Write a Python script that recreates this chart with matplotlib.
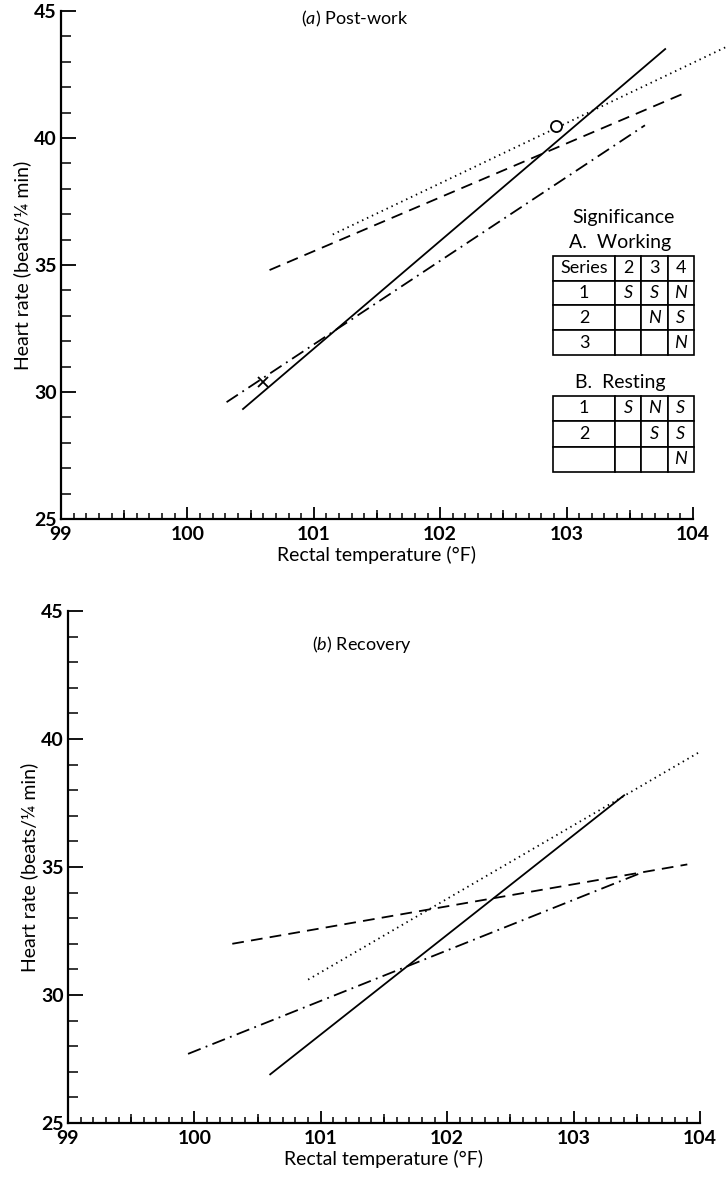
import numpy as np
import matplotlib
matplotlib.use("Agg")
import matplotlib.pyplot as plt
from matplotlib.ticker import MultipleLocator, NullFormatter

plt.rcParams['font.family'] = ['Lato', 'DejaVu Sans']
plt.rcParams['mathtext.fontset'] = 'custom'
plt.rcParams['mathtext.rm'] = 'Lato'
plt.rcParams['mathtext.it'] = 'Lato:italic'

# ---- data (end points of the fitted lines) ----
# (a) post-work
a_solid_x = [100.44, 103.78]
a_solid_y = [29.33, 43.5]
a_dotted_x = [101.15, 104.27]
a_dotted_y = [36.2, 43.6]
a_dashed_x = [100.65, 103.95]
a_dashed_y = [34.8, 41.8]
a_dashdot_x = [100.31, 103.62]
a_dashdot_y = [29.6, 40.5]
a_circle = (102.92, 40.47)
a_cross = (100.6, 30.39)

# (b) recovery
b_solid_x = [100.6, 103.4]
b_solid_y = [26.9, 37.8]
b_dotted_x = [100.9, 104.0]
b_dotted_y = [30.6, 39.5]
b_dashed_x = [100.3, 103.9]
b_dashed_y = [32.0, 35.1]
b_dashdot_x = [99.95, 103.55]
b_dashdot_y = [27.7, 34.8]

# significance tables
working_rows = [["Series", "2", "3", "4"],
                ["1", "S", "S", "N"],
                ["2", "", "N", "S"],
                ["3", "", "", "N"]]
resting_rows = [["1", "S", "N", "S"],
                ["2", "", "S", "S"],
                ["", "", "", "N"]]

x_ticks = [99, 100, 101, 102, 103, 104]
y_ticks = [25, 30, 35, 40, 45]

LW = 1.3
styles = {
    'solid': dict(color='black', lw=LW, linestyle='-'),
    'dotted': dict(color='black', lw=LW, linestyle=(0, (0.8, 2.2))),
    'dashed': dict(color='black', lw=LW, linestyle=(0, (6.5, 4))),
    'dashdot': dict(color='black', lw=LW, linestyle=(0, (7.5, 3, 1, 3))),
}


def style_axes(ax):
    ax.set_xlim(99, 104)
    ax.set_ylim(25, 45)
    for s in ['top', 'right']:
        ax.spines[s].set_visible(False)
    for s in ['left', 'bottom']:
        ax.spines[s].set_linewidth(1.6)
    ax.set_xticks(x_ticks)
    ax.set_yticks(y_ticks)
    ax.xaxis.set_minor_locator(MultipleLocator(0.1))
    ax.yaxis.set_minor_locator(MultipleLocator(1))
    ax.tick_params(axis='x', which='major', direction='in', length=9, width=1.3,
                   labelsize=14, pad=5)
    ax.tick_params(axis='x', which='minor', direction='in', length=4, width=1.1)
    ax.tick_params(axis='y', which='major', direction='in', length=11, width=1.3,
                   labelsize=14, pad=3)
    ax.tick_params(axis='y', which='minor', direction='in', length=7, width=1.1)
    for lab in ax.get_xticklabels() + ax.get_yticklabels():
        lab.set_fontweight('bold')
    # half-degree ticks a bit longer
    sec = ax.secondary_xaxis(0)
    sec.set_xticks(np.arange(99.5, 104, 1.0))
    sec.xaxis.set_major_formatter(NullFormatter())
    sec.tick_params(direction='in', length=6.5, width=1.1)
    sec.spines['bottom'].set_visible(False)
    ax.set_xlabel('Rectal temperature (°F)', fontsize=14, labelpad=2)
    ax.set_ylabel('Heart rate (beats/¼ min)', fontsize=14, va='center')
    ax.yaxis.set_label_coords(-0.062, 0.5)


fig = plt.figure(figsize=(7.27, 11.79), dpi=100)
ax1 = fig.add_axes([0.0839, 0.5598, 0.8693, 0.4309])
ax2 = fig.add_axes([0.0935, 0.0475, 0.8693, 0.4343])

# panel (a)
ax1.plot(a_solid_x, a_solid_y, **styles['solid'])
ax1.plot(a_dotted_x, a_dotted_y, clip_on=False, **styles['dotted'])
ax1.plot(a_dashed_x, a_dashed_y, **styles['dashed'])
ax1.plot(a_dashdot_x, a_dashdot_y, **styles['dashdot'])
ax1.plot([a_circle[0]], [a_circle[1]], marker='o', ms=8, mfc='white',
         mec='black', mew=1.3, linestyle='none')
ax1.plot([a_cross[0]], [a_cross[1]], marker='x', ms=7, mec='black',
         mew=1.3, linestyle='none')
style_axes(ax1)
ax1.text(0.465, 0.985, '($\\it{a}$) Post-work', transform=ax1.transAxes,
         ha='center', va='center', fontsize=13)

# significance tables
ax1.text(0.89, 0.594, 'Significance', transform=ax1.transAxes,
         ha='center', va='center', fontsize=14)
ax1.text(0.885, 0.545, 'A.  Working', transform=ax1.transAxes,
         ha='center', va='center', fontsize=14)
ax1.text(0.885, 0.268, 'B.  Resting', transform=ax1.transAxes,
         ha='center', va='center', fontsize=14)

col_w = [0.445, 0.185, 0.185, 0.185]
for rows, box in [(working_rows, [0.778, 0.323, 0.223, 0.195]),
                  (resting_rows, [0.778, 0.0925, 0.223, 0.15])]:
    tab = ax1.table(cellText=rows, colWidths=col_w, cellLoc='center',
                    bbox=box, transform=ax1.transAxes)
    tab.auto_set_font_size(False)
    tab.set_fontsize(13)
    for (r, c), cell in tab.get_celld().items():
        cell.set_linewidth(1.2)
        cell.set_edgecolor('black')
        txt = cell.get_text()
        if txt.get_text() in ('S', 'N'):
            txt.set_fontstyle('italic')

# panel (b)
ax2.plot(b_solid_x, b_solid_y, **styles['solid'])
ax2.plot(b_dotted_x, b_dotted_y, **styles['dotted'])
ax2.plot(b_dashed_x, b_dashed_y, **styles['dashed'])
ax2.plot(b_dashdot_x, b_dashdot_y, **styles['dashdot'])
style_axes(ax2)
ax2.text(0.465, 0.935, '($\\it{b}$) Recovery', transform=ax2.transAxes,
         ha='center', va='center', fontsize=13)

fig.savefig('out.png', dpi=100)
